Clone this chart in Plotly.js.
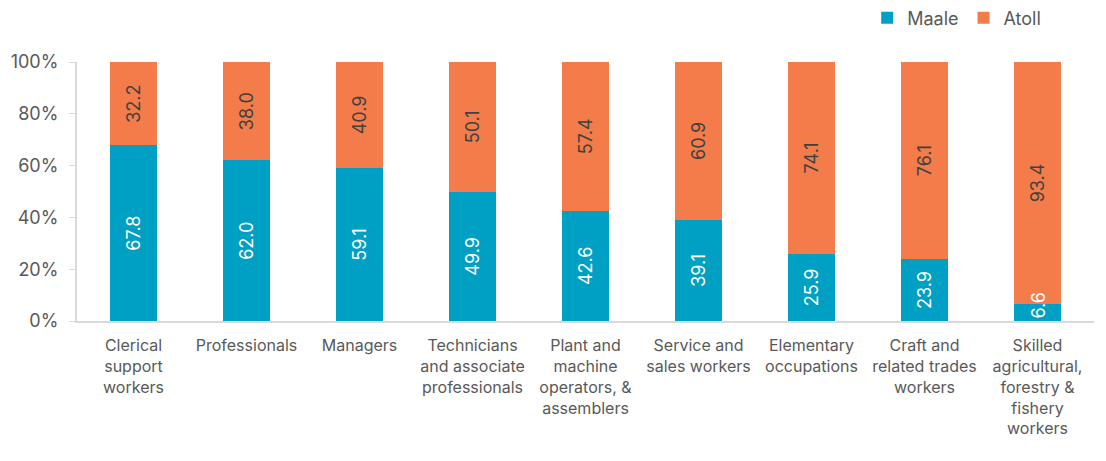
<!DOCTYPE html>
<html>
<head>
<meta charset="utf-8">
<script src="https://cdn.plot.ly/plotly-3.0.1.min.js"></script>
<style>html,body{margin:0;padding:0;background:#fff;}#chart{width:1106px;height:461px;}</style>
</head>
<body>
<div id="chart"></div>
<script>
const categories = [
  "Clerical<br>support<br>workers",
  "Professionals",
  "Managers",
  "Technicians<br>and associate<br>professionals",
  "Plant and<br>machine<br>operators, &<br>assemblers",
  "Service and<br>sales workers",
  "Elementary<br>occupations",
  "Craft and<br>related trades<br>workers",
  "Skilled<br>agricultural,<br>forestry &<br>fishery<br>workers"
];
const maale = [67.8, 62.0, 59.1, 49.9, 42.6, 39.1, 25.9, 23.9, 6.6];
const atoll = [32.2, 38.0, 40.9, 50.1, 57.4, 60.9, 74.1, 76.1, 93.4];
const yTickVals = [0, 20, 40, 60, 80, 100];
const yTickText = ['0%', '20%', '40%', '60%', '80%', '100%'];

const font = "Inter, 'Noto Sans', sans-serif";
const smallLimit = 10; // segments too short to hold a centred label
const traces = [
  {
    type: 'bar', name: 'Maale', x: categories, y: maale,
    marker: {color: '#00A0C4'},
    text: maale.map(v => v < smallLimit ? '' : v.toFixed(1)), textposition: 'inside',
    insidetextanchor: 'middle', textangle: -90, constraintext: 'none',
    textfont: {color: '#FFFFFF', size: 18, family: font},
    hoverinfo: 'none'
  },
  {
    type: 'bar', name: 'Atoll', x: categories, y: atoll,
    marker: {color: '#F37C4A'},
    text: atoll.map(v => v.toFixed(1)), textposition: 'inside',
    insidetextanchor: 'middle', textangle: -90, constraintext: 'none',
    textfont: {color: '#404040', size: 18, family: font},
    hoverinfo: 'none'
  }
];
const annotations = [];
maale.forEach((v, i) => {
  if (v < smallLimit) {
    annotations.push({
      x: categories[i], y: 0, xref: 'x', yref: 'y', text: v.toFixed(1),
      showarrow: false, textangle: -90, yanchor: 'bottom', xanchor: 'center',
      font: {color: '#FFFFFF', size: 18, family: font}
    });
  }
});
const layout = {
  width: 1106, height: 461,
  margin: {l: 77, r: 12, t: 62, b: 140, autoexpand: false},
  barmode: 'stack', bargap: 0.59,
  uniformtext: {mode: 'show', minsize: 18},
  paper_bgcolor: '#fff', plot_bgcolor: '#fff',
  font: {family: font, size: 16, color: '#595959'},
  showlegend: true,
  annotations: annotations,
  legend: {orientation: 'h', x: 0.777, xanchor: 'left', y: 1.17, yanchor: 'middle',
           font: {size: 18, color: '#595959'}, traceorder: 'normal', itemwidth: 30},
  xaxis: {showline: true, linecolor: '#D9D9D9', linewidth: 2, ticks: '', ticklabelstandoff: 9,
          tickangle: 0, tickfont: {size: 16, color: '#595959'}, fixedrange: true},
  yaxis: {range: [0, 100], tickvals: yTickVals, ticktext: yTickText, ticklabelstandoff: 7,
          showline: true, linecolor: '#D9D9D9', linewidth: 2, ticks: 'outside', tickcolor: '#D9D9D9', ticklen: 6,
          showgrid: false, zeroline: false, tickfont: {size: 18, color: '#595959'}, fixedrange: true}
};
Plotly.newPlot('chart', traces, layout, {displayModeBar: false, staticPlot: true});
</script>
</body>
</html>
